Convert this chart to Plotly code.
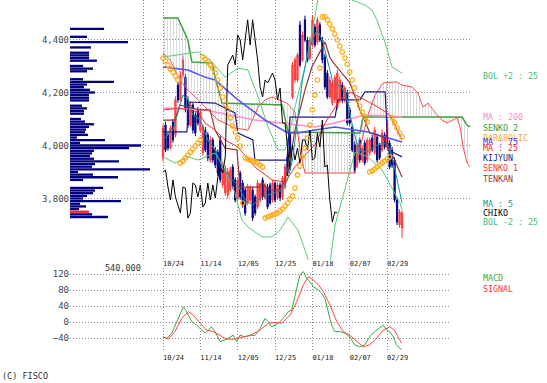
import plotly.graph_objects as go

W, H = 547, 383

# ---------------- data ----------------
dates = ["10/24", "11/14", "12/05", "12/25", "01/18", "02/07", "02/29"]
date_idx = [0, 15, 30, 45, 60, 75, 90]

bar_idx = list(range(97))
opens = [3953, 4077, 4040, 3990, 4089, 4040, 4228, 4172, 4266, 4258, 4172, 4077, 4153, 4115, 4134, 4058,
         3972, 4058, 4040, 3945, 4021, 3983, 3975, 4021, 3851, 3821, 3813, 3832, 3919, 3870, 3802, 3896,
         3858, 3832, 3783, 3794, 3832, 3806, 3768, 3794, 3870, 3802, 3843, 3851, 3794, 3858, 3802, 3851,
         3806, 3843, 3957, 4047, 4183, 4247, 4247, 4455, 4323, 4474, 4398, 4330, 4379, 4447, 4390, 4455,
         4398, 4334, 4273, 4183, 4160, 4172, 4145, 4172, 4228, 4172, 4198, 4134, 4070, 4002, 3926, 4021,
         3945, 4009, 3945, 3972, 4028, 3972, 4032, 4002, 3983, 4040, 3994, 4009, 3983, 3945, 3794, 3700, 3689]
highs = [4080, 4090, 4050, 4075, 4100, 4185, 4240, 4280, 4340, 4270, 4185, 4165, 4160, 4125, 4145, 4140,
         4080, 4070, 4050, 4035, 4030, 3995, 3985, 4035, 3940, 3925, 3915, 3920, 3930, 3880, 3880, 3905,
         3870, 3840, 3855, 3850, 3845, 3815, 3870, 3860, 3880, 3860, 3855, 3860, 3870, 3865, 3860, 3860,
         3885, 3930, 3965, 4060, 4315, 4335, 4350, 4470, 4430, 4490, 4410, 4410, 4490, 4460, 4485, 4465,
         4410, 4345, 4285, 4260, 4245, 4265, 4285, 4260, 4240, 4225, 4210, 4145, 4080, 4015, 4010, 4030,
         4000, 4020, 4030, 4030, 4040, 4070, 4045, 4010, 4060, 4050, 4110, 4020, 3995, 3955, 3805, 3760, 3755]
lows = [3940, 3975, 3980, 3985, 4010, 4030, 4160, 4165, 4255, 4125, 4065, 4070, 4045, 4035, 4075, 4050,
        3960, 3975, 3940, 3935, 3935, 3915, 3885, 3860, 3840, 3810, 3800, 3825, 3835, 3785, 3790, 3795,
        3765, 3735, 3775, 3785, 3715, 3735, 3760, 3785, 3795, 3795, 3760, 3775, 3785, 3785, 3795, 3790,
        3795, 3835, 3885, 3950, 4175, 4235, 4240, 4295, 4315, 4390, 4315, 4320, 4370, 4370, 4380, 4390,
        4310, 4210, 4175, 4175, 4150, 4160, 4135, 4160, 4160, 4160, 4075, 4075, 3975, 3895, 3915, 3935,
        3935, 3925, 3935, 3960, 3975, 3965, 3935, 3945, 3975, 3985, 3985, 3910, 3915, 3785, 3700, 3690, 3651]
closes = [4066, 3983, 3990, 4066, 4021, 4172, 4172, 4266, 4323, 4134, 4077, 4153, 4058, 4047, 4085, 4126,
          4070, 3983, 3953, 4021, 3945, 3926, 3896, 3870, 3926, 3915, 3900, 3907, 3843, 3794, 3870, 3806,
          3775, 3745, 3843, 3839, 3726, 3745, 3858, 3851, 3806, 3851, 3768, 3783, 3858, 3794, 3851, 3802,
          3877, 3919, 3896, 3957, 4304, 4323, 4341, 4304, 4417, 4398, 4323, 4398, 4474, 4379, 4474, 4398,
          4323, 4221, 4183, 4247, 4236, 4255, 4273, 4247, 4172, 4217, 4085, 4085, 3983, 3907, 4002, 3945,
          3990, 3934, 4021, 4021, 3983, 4058, 3945, 3953, 4047, 3994, 4096, 3919, 3926, 3794, 3711, 3749, 3745]

ma5_x = [0, 4, 8, 10, 12, 15, 18, 21, 24, 27, 30, 33, 36, 39, 42, 45, 48, 50, 52, 54, 56, 58, 60, 62,
         64, 66, 68, 70, 72, 74, 76, 78, 80, 83, 86, 89, 91, 93, 96]
ma5_y = [4021, 4058, 4190, 4172, 4115, 4096, 4021, 3983, 3915, 3877, 3851, 3794, 3775, 3802, 3813, 3821,
         3832, 3870, 3945, 4096, 4247, 4341, 4398, 4436, 4398, 4323, 4247, 4228, 4217, 4172, 4077, 4002,
         3975, 3983, 4002, 4009, 3990, 3915, 3783]

ma25_x = [0, 6.8, 14.1, 16.9, 20.9, 24.9, 30.1, 36.9, 43.8, 49.0, 53.0, 57.0, 61.0, 65.1, 71.1, 75.1,
          81.1, 86.3, 91.2, 96]
ma25_y = [4134, 4141, 4126, 4085, 4058, 4021, 3994, 3919, 3870, 3862, 3919, 3964, 4002, 4085, 4172, 4202,
          4172, 4145, 4115, 4021]

ma75_x = [0, 10, 16.9, 20.9, 30.1, 41, 50.2, 54.2, 61, 69.1, 82.3, 96]
ma75_y = [4296, 4285, 4258, 4247, 4172, 4096, 4047, 4047, 4058, 4070, 4051, 4013]

ma200_x = [0, 17, 37, 61, 69, 81, 96]
ma200_y = [4141, 4134, 4096, 4070, 4085, 4115, 4107]

bol_up_x = [0, 10, 14.1, 18.9, 24.9, 30.1, 34.1, 38.2, 42.2, 46.2, 49, 51, 53, 57, 59.8, 62.2, 65.1,
            71.1, 75.9, 81.1, 83.9, 85.9, 89.2, 92, 94, 96]
bol_up_y = [4334, 4349, 4353, 4323, 4258, 4292, 4285, 4183, 4070, 3983, 3983, 4058, 4145, 4296, 4424,
            4549, 4624, 4624, 4549, 4530, 4511, 4474, 4387, 4296, 4285, 4273]
bol_lo_x = [0, 4.8, 10, 14.1, 20.9, 24.9, 28.9, 31.7, 34.1, 39.8, 43.8, 47, 50.2, 54.2, 57, 59, 63.1,
            67.1, 69.1, 75.1, 77.1, 82.3, 88, 92.4, 95.2, 96]
bol_lo_y = [3957, 3934, 3957, 3945, 3972, 3907, 3821, 3719, 3692, 3655, 3655, 3681, 3730, 3681, 3606,
            3549, 3492, 3560, 3700, 3900, 3975, 3957, 3907, 3832, 3783, 3757]

kijun_x = [0, 9.6, 10.4, 20.9, 28.9, 30.1, 36.1, 36.9, 49.8, 51, 69.1, 70.3, 79.1, 81.1, 89.2, 90.4, 96]
kijun_y = [4051, 4051, 4164, 4160, 4123, 4047, 4021, 3945, 3945, 4107, 4107, 4172, 4172, 4202, 4202, 3983, 3957]

tenkan_x = [0, 4.8, 6.8, 14.9, 18.9, 20.9, 24.9, 29.7, 30.9, 38.2, 39.8, 43.0, 47.0, 49.0, 51.0, 53.0,
            55.0, 57.0, 59.8, 62.2, 65.1, 67.1, 69.1, 75.1, 79.1, 83.1, 88.4, 92.4, 96]
tenkan_y = [4096, 4096, 4153, 4134, 4134, 4058, 3990, 3983, 3843, 3843, 3858, 3832, 3832, 3870, 3945, 4058,
            4134, 4209, 4296, 4341, 4390, 4330, 4304, 4236, 4134, 4047, 4032, 3957, 3881]

senko1_x = [0, 2.8, 6.8, 10, 14.1, 18.9, 22.1, 28.9, 34.1, 38.2, 41, 43.8, 47, 49.8, 53, 55, 57, 77.1,
            79.1, 82.3, 85.1, 88.4, 93.7, 96, 100, 102.4, 104.4, 106.4, 109.2, 112, 114.1, 118.1, 119.3,
            120.5, 122.1, 123.3]
senko1_y = [4349, 4323, 4247, 4209, 4172, 4126, 4096, 4066, 4058, 4145, 4172, 4183, 4172, 4160, 4126, 3983,
            3896, 3896, 3990, 4115, 4190, 4236, 4240, 4228, 4221, 4198, 4145, 4160, 4126, 4096, 4085, 4104,
            4070, 3994, 3934, 3919]
senko2_x = [0, 6, 10, 11.6, 19.7, 20.9, 23.7, 47.8, 50.2, 79.1, 80.3, 120.1, 122.1, 123.3]
senko2_y = [4481, 4481, 4398, 4315, 4311, 4258, 4160, 4153, 4051, 4047, 4107, 4107, 4077, 4070]

sar = [4330, 4319, 4304, 4289, 4277, 4262, 4247,
       3934, 3941, 3953, 3964, 3975, 3987, 3998, 4009, 4021,
       4334, 4326, 4315, 4304, 4292, 4273, 4247, 4217, 4183, 4156, 4134, 4104, 4073, 4051, 4028, 3998,
       3783,
       3953, 3949, 3945, 3941, 3938, 3934, 3926, 3919,
       3726, 3730, 3734, 3738, 3741, 3745, 3753, 3760, 3772, 3783, 3798, 3809, 3839, 3889, 3922, 3957,
       3990, 4028, 4077, 4134, 4190, 4247, 4292,
       4485, 4485, 4474, 4458, 4440, 4421, 4398, 4375, 4353, 4330, 4307, 4277, 4247, 4217, 4172, 4149,
       4126, 4107, 4089,
       3900, 3904, 3911, 3919, 3926, 3934, 3941, 3949, 3957,
       4104, 4085, 4066, 4047, 4032]

chiko_shift = 26

vp_price = [4440, 4410, 4390, 4370, 4350, 4340, 4330, 4320, 4300, 4290, 4280, 4250, 4240, 4230, 4220,
            4210, 4200, 4190, 4180, 4170, 4150, 4140, 4130, 4120, 4100, 4090, 4080, 4070, 4060, 4050,
            4040, 4030, 4020, 4010, 4000, 3990, 3980, 3970, 3960, 3950, 3940, 3930, 3920, 3910, 3900,
            3890, 3880, 3870, 3840, 3830, 3820, 3810, 3800, 3790, 3780, 3770, 3760, 3750, 3740, 3730]
vp_volume = [250000, 125000, 426000, 154000, 140000, 140000, 140000, 198000, 96000, 169000, 125000,
             96000, 323000, 125000, 103000, 147000, 184000, 140000, 140000, 140000, 88000, 125000,
             103000, 103000, 81000, 110000, 176000, 140000, 118000, 110000, 132000, 51000, 257000,
             74000, 522000, 434000, 176000, 162000, 147000, 176000, 360000, 184000, 162000, 588000,
             59000, 169000, 353000, 96000, 243000, 184000, 169000, 125000, 96000, 375000, 74000,
             118000, 66000, 140000, 162000, 279000]
vp_scale_label = "540,000"
last_price_level = 3750

macd_x = [0, 1.5, 3.5, 5.5, 8.2, 9.5, 11.5, 13.5, 15.5, 16.9, 18.2, 19.5, 20.9, 22.9, 24.9, 26.9, 28.2,
          29.6, 30.9, 32.9, 34.9, 36.9, 39, 41, 42.3, 43.6, 45, 46.3, 48.3, 50.3, 51.7, 53, 55, 56.4,
          57.7, 59, 60.4, 62.4, 63.7, 65, 66.4, 67.7, 69, 71, 73, 75, 77, 79, 81, 83, 85, 87, 88.5, 89.8,
          91, 92.5, 93.8, 95.8]
macd_y = [-37, -41, -28, 1, 38, 26, 1, -8, -20, -28, -20, -12, -24, -49, -45, -37, -33, -49, -33, -37,
          -33, -34, -16, 9, 1, -12, -8, -3, 9, 26, 30, 68, 118, 126, 109, 101, 88, 80, 72, 59, 26, -8,
          -24, -24, -28, -37, -57, -62, -57, -37, -24, -16, -8, -20, -24, -37, -57, -70]
signal_x = [0, 2.1, 4.8, 7.5, 10.2, 12.2, 14.9, 17.5, 20.2, 22.9, 25.6, 28.2, 31.6, 34.9, 39, 42.3, 45,
            47.7, 51, 53.7, 56.4, 58.4, 60.4, 62.4, 64.4, 67, 69.8, 72.4, 75, 77.8, 80.4, 83, 85.8,
            88.5, 91, 92.9, 95.8]
signal_y = [-37, -43, -24, 9, 26, 17, -3, -20, -24, -33, -43, -43, -39, -34, -20, -3, -1, -3, 17, 51,
            93, 113, 105, 93, 76, 43, 1, -24, -33, -49, -62, -57, -41, -20, -12, -20, -53]

price_ticks = [3800, 4000, 4200, 4400]
macd_ticks = [-40, 0, 40, 80, 120]

# ---------------- figure ----------------
MONO = "DejaVu Sans Mono"
GRID = "#8a8a8a"
DASH = "1px,2px"

fig = go.Figure()

# Ichimoku cloud (hatched)
fig.add_trace(go.Scatter(x=senko2_x, y=senko2_y, mode="lines", line=dict(color="#3f9f3f", width=1.5),
                         xaxis="x", yaxis="y", hoverinfo="skip"))
fig.add_trace(go.Scatter(x=senko1_x, y=senko1_y, mode="lines", line=dict(color="#ff4a4a", width=1),
                         fill="tonexty", fillcolor="rgba(0,0,0,0)",
                         fillpattern=dict(shape="|", fgcolor="#b0b0b0", bgcolor="rgba(255,255,255,0)",
                                          size=3, solidity=0.3),
                         xaxis="x", yaxis="y", hoverinfo="skip"))

# volume profile
fig.add_trace(go.Bar(y=vp_price, x=vp_volume, orientation="h", xaxis="x3", yaxis="y", width=8.8,
                     marker=dict(color=["#ff2020" if p == last_price_level else "#000080" for p in vp_price],
                                 line=dict(width=0)),
                     hoverinfo="skip"))

def line(x, y, color, width=1):
    fig.add_trace(go.Scatter(x=x, y=y, mode="lines", line=dict(color=color, width=width),
                             xaxis="x", yaxis="y", hoverinfo="skip"))

line(bol_up_x, bol_up_y, "#55cc77")
line(bol_lo_x, bol_lo_y, "#55cc77")
line(ma200_x, ma200_y, "#ff8ccc", 1.5)
line(ma75_x, ma75_y, "#5050ff", 1.5)
line(kijun_x, kijun_y, "#1a1a8c", 1.2)
line(tenkan_x, tenkan_y, "#993333", 1.2)
line(ma25_x, ma25_y, "#ff2a2a", 1)
line([i - chiko_shift for i in bar_idx[chiko_shift:]], closes[chiko_shift:], "#000000", 1)

fig.add_trace(go.Candlestick(x=bar_idx, open=opens, high=highs, low=lows, close=closes,
                             xaxis="x", yaxis="y", whiskerwidth=0,
                             increasing=dict(line=dict(color="#ff3333", width=1), fillcolor="#ff6060"),
                             decreasing=dict(line=dict(color="#000080", width=1), fillcolor="#000080"),
                             hoverinfo="skip"))

line(ma5_x, ma5_y, "#119999", 1)

fig.add_trace(go.Scatter(x=bar_idx, y=sar, mode="markers", xaxis="x", yaxis="y",
                         marker=dict(symbol="circle-open", size=4.5, color="#ffaa11", line=dict(width=1.2)),
                         hoverinfo="skip"))

# MACD panel
fig.add_trace(go.Scatter(x=macd_x, y=macd_y, mode="lines", line=dict(color="#3aa83a", width=1),
                         xaxis="x2", yaxis="y2", hoverinfo="skip"))
fig.add_trace(go.Scatter(x=signal_x, y=signal_y, mode="lines", line=dict(color="#ff4444", width=1),
                         xaxis="x2", yaxis="y2", hoverinfo="skip"))
fig.add_trace(go.Scatter(x=[0], y=[0], mode="markers", marker=dict(opacity=0), xaxis="x4", yaxis="y2",
                         hoverinfo="skip"))

# ---------------- layout ----------------
def px(x):
    return x / W

def py(y):
    return 1 - y / H

x_main_rng = [-37.35, 123.69]
x_macd_rng = [-37.35, 115.26]

date_font = dict(family=MONO, size=7, color="#222222")
tick_font = dict(family=MONO, size=9, color="#444444")

fig.update_layout(
    width=W, height=H, margin=dict(l=0, r=0, t=0, b=0),
    paper_bgcolor="white", plot_bgcolor="white", showlegend=False,
    font=dict(family=MONO, size=9, color="#333333"),
    xaxis=dict(domain=[px(70), px(471)], range=x_main_rng, anchor="y",
               tickvals=[-8] + date_idx, showticklabels=False, ticks="",
               showgrid=True, gridcolor=GRID, griddash=DASH, gridwidth=1,
               zeroline=False, showline=False, rangeslider=dict(visible=False)),
    xaxis3=dict(overlaying="x", range=[0, 2947350], visible=False, showgrid=False),
    yaxis=dict(domain=[py(260), 1], range=[3567.8, 4549], anchor="x",
               tickvals=price_ticks, tickformat=",", ticks="", tickfont=tick_font,
               showgrid=True, gridcolor=GRID, griddash=DASH, gridwidth=1,
               zeroline=False, showline=False),
    xaxis2=dict(domain=[px(70), px(450)], range=x_macd_rng, anchor="y2",
                tickvals=date_idx, ticktext=dates, ticks="", tickfont=date_font,
                ticklabelposition="outside right",
                showgrid=True, gridcolor=GRID, griddash=DASH, gridwidth=1,
                zeroline=False, showline=False),
    xaxis4=dict(overlaying="x2", side="top", anchor="y2", range=x_macd_rng,
                tickvals=date_idx, ticktext=dates, ticks="", tickfont=date_font,
                ticklabelposition="outside right", showgrid=False, zeroline=False, showline=False),
    yaxis2=dict(domain=[py(352), py(268)], range=[-75, 135], anchor="x2",
                tickvals=macd_ticks, ticks="", tickfont=tick_font,
                showgrid=True, gridcolor=GRID, griddash=DASH, gridwidth=1,
                zeroline=False, showline=False),
)

labels = [
    ("BOL +2 : 25", "#44c070", 76),
    ("MA : 200", "#ff88cc", 117),
    ("SENKO 2", "#3a9a3a", 128),
    ("PARABOLIC", "#ffaa22", 138),
    ("MA : 75", "#3333ff", 142),
    ("MA : 25", "#ff2222", 148),
    ("KIJYUN", "#1a1a8c", 158),
    ("SENKO 1", "#ff3333", 168),
    ("TENKAN", "#993333", 179),
    ("MA : 5", "#119999", 204),
    ("CHIKO", "#000000", 213),
    ("BOL -2 : 25", "#44c070", 222),
    ("MACD", "#3aa83a", 278),
    ("SIGNAL", "#ff3333", 289),
]
for text, color, y in labels:
    fig.add_annotation(x=px(481), y=py(y), xref="paper", yref="paper", text=text, showarrow=False,
                       xanchor="left", yanchor="middle", font=dict(family=MONO, size=8.3, color=color))

fig.add_annotation(x=px(143), y=py(268), xref="paper", yref="paper", text=vp_scale_label, showarrow=False,
                   xanchor="right", yanchor="middle", font=dict(family=MONO, size=8.5, color="#333333"))
fig.add_annotation(x=0, y=py(376), xref="paper", yref="paper", text="(C) FISCO", showarrow=False,
                   xanchor="left", yanchor="middle", font=dict(family=MONO, size=8.5, color="#333333"))

fig.write_html("out.html", config={"displayModeBar": False, "staticPlot": True},
               post_script="document.body.style.margin='0';document.body.style.overflow='hidden';")
